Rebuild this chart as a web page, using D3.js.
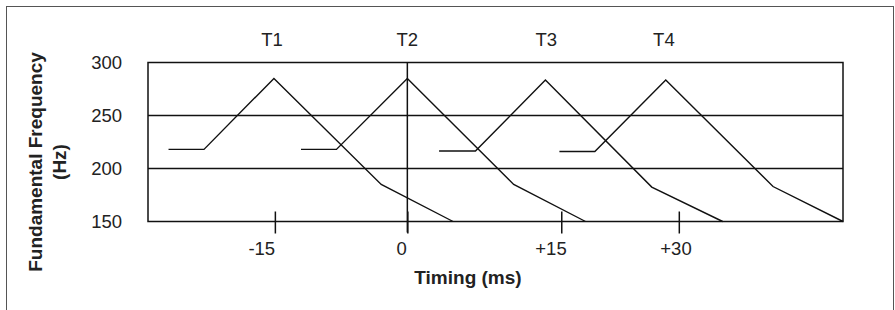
<!DOCTYPE html>
<html>
<head>
<meta charset="utf-8">
<script src="https://cdn.jsdelivr.net/npm/d3@7"></script>
<style>
  body { margin: 0; background: #fff; }
  svg text { font-family: "Liberation Sans", Arial, Helvetica, sans-serif; fill: #222; }
</style>
</head>
<body>
<div id="chart"></div>
<script>
// schematic F0 contours, time in ms (schematic), frequency in Hz
var width = 895,
    height = 310;

var targets = ['T1', 'T2', 'T3', 'T4'];
var targetPos = [-14.5, 0, 14.9, 27.5];

var contourT1 = [[-25.6, 218], [-21.8, 218], [-14.3, 285], [-2.8, 185], [4.9, 150]];
var contourT2 = [[-11.4, 218], [-7.6, 218], [0, 285], [11.4, 185], [19.1, 150]];
var contourT3 = [[3.4, 216.5], [7.3, 216.5], [14.8, 283.5], [26.2, 182.5], [33.8, 150]];
var contourT4 = [[16.3, 216], [20.1, 216], [27.7, 283.5], [39.2, 183], [46.7, 150]];
var contours = [contourT1, contourT2, contourT3, contourT4];

var yTicks = [150, 200, 250, 300];
var gridValues = [200, 250];
var xTickPos = [-14.2, 0, 16.5, 29.1];
var xTickLabels = ['-15', '0', '+15', '+30'];
var xLabelPos = [-15.6, -0.6, 15.4, 28.8];

var svg = d3.select('#chart').append('svg')
    .attr('width', width)
    .attr('height', height);

// outer frame
svg.append('rect')
    .attr('x', 6.5)
    .attr('y', 6.5)
    .attr('width', 887)
    .attr('height', 330)
    .attr('fill', 'none')
    .attr('stroke', '#555')
    .attr('stroke-width', 1);

var xScale = d3.scaleLinear()
    .domain([-27.8, 46.7])
    .range([148, 843]);

var yScale = d3.scaleLinear()
    .domain([150, 300])
    .range([221.5, 62.5]);

// box + grid
svg.append('rect')
    .attr('x', xScale(-27.8))
    .attr('y', yScale(300))
    .attr('width', xScale(46.7) - xScale(-27.8))
    .attr('height', yScale(150) - yScale(300))
    .attr('fill', 'none')
    .attr('stroke', '#111')
    .attr('stroke-width', 1.5);

svg.selectAll('.grid')
    .data(gridValues)
    .enter().append('line')
    .attr('class', 'grid')
    .attr('x1', xScale(-27.8))
    .attr('x2', xScale(46.7))
    .attr('y1', function(d) { return yScale(d); })
    .attr('y2', function(d) { return yScale(d); })
    .attr('stroke', '#111')
    .attr('stroke-width', 1.5);

// y axis
var yAxis = d3.axisLeft(yScale)
    .tickValues(yTicks)
    .tickSize(0)
    .tickPadding(26);

var yg = svg.append('g')
    .attr('transform', 'translate(' + xScale(-27.8) + ',0)')
    .call(yAxis);
yg.select('.domain').remove();
yg.selectAll('text')
    .attr('font-size', '18.5px')
    .attr('fill', '#222');

// x ticks
var xAxis = d3.axisBottom(xScale)
    .tickValues(xTickPos)
    .tickSize(12)
    .tickFormat('');

var xg = svg.append('g')
    .attr('transform', 'translate(0,' + yScale(150) + ')')
    .call(xAxis);
xg.select('.domain').remove();
xg.selectAll('.tick line')
    .attr('y1', -10)
    .attr('stroke', '#111')
    .attr('stroke-width', 1.5);

svg.selectAll('.xlabel')
    .data(xTickLabels)
    .enter().append('text')
    .attr('class', 'xlabel')
    .attr('x', function(d, i) { return xScale(xLabelPos[i]); })
    .attr('y', 255)
    .attr('text-anchor', 'middle')
    .attr('font-size', '18.5px')
    .text(function(d) { return d; });

// vertical line at 0
svg.append('line')
    .attr('x1', xScale(0))
    .attr('x2', xScale(0))
    .attr('y1', yScale(300))
    .attr('y2', yScale(150) + 11)
    .attr('stroke', '#111')
    .attr('stroke-width', 1.5);

// target labels
svg.selectAll('.target')
    .data(targets)
    .enter().append('text')
    .attr('class', 'target')
    .attr('x', function(d, i) { return xScale(targetPos[i]); })
    .attr('y', 46)
    .attr('text-anchor', 'middle')
    .attr('font-size', '18.5px')
    .text(function(d) { return d; });

// contours
var line = d3.line()
    .x(function(d) { return xScale(d[0]); })
    .y(function(d) { return yScale(d[1]); });

svg.selectAll('.contour')
    .data(contours)
    .enter().append('path')
    .attr('class', 'contour')
    .attr('d', line)
    .attr('fill', 'none')
    .attr('stroke', '#111')
    .attr('stroke-width', 1.4);

// axis titles
svg.append('text')
    .attr('x', xScale(6.5))
    .attr('y', 284)
    .attr('text-anchor', 'middle')
    .attr('font-size', '19px')
    .attr('font-weight', 'bold')
    .text('Timing (ms)');

svg.append('text')
    .attr('transform', 'translate(42,162) rotate(-90)')
    .attr('text-anchor', 'middle')
    .attr('font-size', '19px')
    .attr('font-weight', 'bold')
    .text('Fundamental Frequency');

svg.append('text')
    .attr('transform', 'translate(66,162) rotate(-90)')
    .attr('text-anchor', 'middle')
    .attr('font-size', '19px')
    .attr('font-weight', 'bold')
    .text('(Hz)');
</script>
</body>
</html>
